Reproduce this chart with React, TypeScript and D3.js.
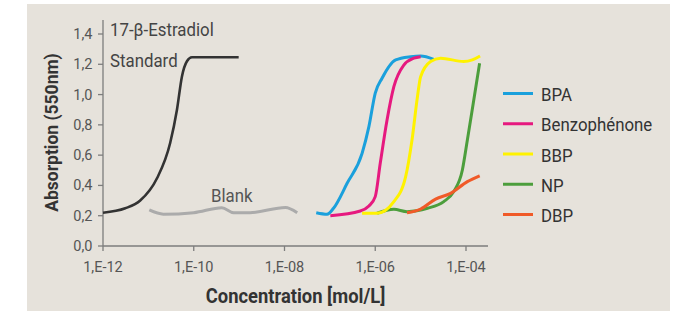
import React from "react";
import * as d3 from "d3";

// log10 of the concentration [mol/L] and the absorption read at each point
const standardLog = [-12, -11.51, -11.18, -10.81, -10.52, -10.37, -10.26, -10.15, -10.04, -9.01];
const standardAbs = [0.22, 0.249, 0.3, 0.447, 0.68, 0.9, 1.12, 1.22, 1.246, 1.246];

const blankLog = [-10.98, -10.67, -10.0, -9.38, -9.12, -8.76, -7.98, -7.72];
const blankAbs = [0.238, 0.21, 0.22, 0.253, 0.22, 0.22, 0.255, 0.22];

const bpaLog = [-7.3, -7.06, -6.92, -6.62, -6.29, -6.14, -6.0, -5.85, -5.55, -5.22, -5.0, -4.71];
const bpaAbs = [0.22, 0.21, 0.249, 0.414, 0.612, 0.788, 1.01, 1.108, 1.229, 1.25, 1.255, 1.233];

const benzoLog = [-6.99, -6.33, -6.14, -6.0, -5.89, -5.74, -5.59, -5.37, -5.15, -5.0];
const benzoAbs = [0.2, 0.231, 0.264, 0.326, 0.546, 0.832, 1.052, 1.195, 1.24, 1.25];

const bbpLog = [-6.29, -5.96, -5.59, -5.33, -5.19, -5.07, -5.0, -4.78, -4.56, -4.05, -3.86, -3.69];
const bbpAbs = [0.216, 0.216, 0.293, 0.458, 0.7, 0.986, 1.118, 1.218, 1.24, 1.218, 1.229, 1.255];

const npLog = [-5.96, -5.59, -5.3, -4.85, -4.49, -4.27, -4.08, -3.97, -3.84, -3.7];
const npAbs = [0.216, 0.242, 0.227, 0.249, 0.293, 0.359, 0.502, 0.7, 0.943, 1.207];

const dbpLog = [-5.3, -5.0, -4.67, -4.34, -3.97, -3.7];
const dbpAbs = [0.22, 0.244, 0.31, 0.348, 0.425, 0.464];

const legendNames = ["BPA", "Benzophénone", "BBP", "NP", "DBP"];
const legendColors = ["#1aa0dc", "#e6197f", "#fff200", "#4c9e3c", "#f05a28"];

const xTickLogs = [-12, -10, -8, -6, -4];
const yTicks = [0, 0.2, 0.4, 0.6, 0.8, 1.0, 1.2, 1.4];

const W = 684;
const H = 311;
const font = "Roboto, 'Liberation Sans', sans-serif";
const SX = 0.92; // the original type is a condensed face

// text squeezed horizontally
const T = ({ x, y, size, anchor = "start", weight = "normal", fill = "#444", rotate = 0, children }: any) => (
  <text
    transform={`translate(${x},${y}) rotate(${rotate}) scale(${SX},1)`}
    fontSize={size}
    fontWeight={weight}
    textAnchor={anchor}
    fill={fill}
  >
    {children}
  </text>
);

export default function App() {
  const x = d3.scaleLog().domain([1e-12, 1e-4]).range([103, 466]);
  const y = d3.scaleLinear().domain([0, 1.4]).range([246, 34]);

  const line = d3
    .line<[number, number]>()
    .x((d) => x(Math.pow(10, d[0])))
    .y((d) => y(d[1]))
    .curve(d3.curveMonotoneX);

  const pts = (l: number[], a: number[]) => l.map((v, i) => [v, a[i]] as [number, number]);

  const series = [
    { d: pts(bpaLog, bpaAbs), c: legendColors[0] },
    { d: pts(benzoLog, benzoAbs), c: legendColors[1] },
    { d: pts(npLog, npAbs), c: legendColors[3] },
    { d: pts(dbpLog, dbpAbs), c: legendColors[4] },
    { d: pts(bbpLog, bbpAbs), c: legendColors[2] },
  ];

  const fmt = (v: number) => v.toFixed(1).replace(".", ",");
  const legendY = d3.scaleLinear().domain([0, 4]).range([93.5, 214.5]);
  const axisColor = "#7d7d7d";

  return (
    <svg width={W} height={H} style={{ position: "fixed", left: 0, top: 0 }} fontFamily={font}>
      <rect x={0} y={0} width={W} height={H} fill="#fff" />
      <rect x={27} y={4} width={643} height={H - 4} fill="#e6e2db" />

      {/* axes */}
      <line x1={103} x2={103} y1={20} y2={246} stroke={axisColor} strokeWidth={1.3} />
      <line x1={103} x2={488} y1={246} y2={246} stroke={axisColor} strokeWidth={1.3} />

      {yTicks.map((t) => (
        <g key={t}>
          <line x1={98} x2={103} y1={y(t)} y2={y(t)} stroke={axisColor} strokeWidth={1.3} />
          <text x={92.5} y={y(t) + 5} textAnchor="end" fontSize={14.5} fill="#555">
            {fmt(t)}
          </text>
        </g>
      ))}
      {xTickLogs.map((t) => (
        <g key={t}>
          <line
            x1={x(Math.pow(10, t))}
            x2={x(Math.pow(10, t))}
            y1={246}
            y2={251}
            stroke={axisColor}
            strokeWidth={1.3}
          />
          <text x={x(Math.pow(10, t))} y={271.5} textAnchor="middle" fontSize={14.5} fill="#555">
            {"1,E" + (t < 0 ? "-" : "") + String(Math.abs(t)).padStart(2, "0")}
          </text>
        </g>
      ))}

      <T x={58} y={132.5} rotate={-90} size={19} weight="bold" anchor="middle" fill="#333">
        Absorption (550nm)
      </T>
      <T x={295.5} y={302.5} size={20} weight="bold" anchor="middle" fill="#333">
        Concentration [mol/L]
      </T>

      {/* curves */}
      <path d={line(pts(blankLog, blankAbs)) ?? ""} fill="none" stroke="#ababab" strokeWidth={3} />
      <path d={line(pts(standardLog, standardAbs)) ?? ""} fill="none" stroke="#333" strokeWidth={2.6} />
      {series.map((s, i) => (
        <path key={i} d={line(s.d) ?? ""} fill="none" stroke={s.c} strokeWidth={3} />
      ))}

      <T x={110} y={36} size={18.3}>
        17-β-Estradiol
      </T>
      <T x={110} y={66.5} size={18.3}>
        Standard
      </T>
      <T x={211} y={201.5} size={18.3} fill="#555">
        Blank
      </T>

      {/* legend */}
      {legendNames.map((n, i) => (
        <g key={n}>
          <line
            x1={503}
            x2={533}
            y1={legendY(i)}
            y2={legendY(i)}
            stroke={legendColors[i]}
            strokeWidth={3}
          />
          <T x={541} y={legendY(i) + 7.5} size={18.3} fill="#333">
            {n}
          </T>
        </g>
      ))}
    </svg>
  );
}
